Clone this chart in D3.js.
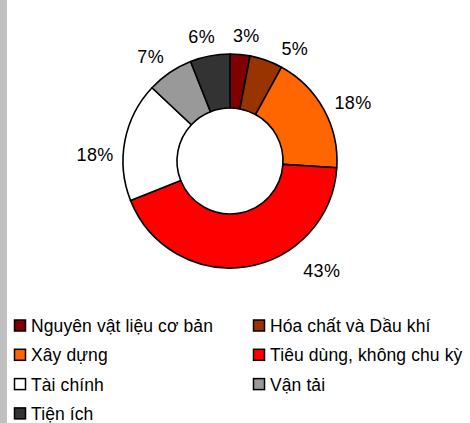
<!DOCTYPE html>
<html>
<head>
<meta charset="utf-8">
<script src="https://cdn.jsdelivr.net/npm/d3@7"></script>
<style>
  html, body { margin: 0; padding: 0; background: #fff; }
  svg { display: block; }
  text { font-family: "Liberation Sans", Arial, sans-serif; fill: #000; }
</style>
</head>
<body>
<div id="chart"></div>
<script>
// sectors, clockwise from 12 o'clock
const categories = ["Nguyên vật liệu cơ bản", "Hóa chất và Dầu khí", "Xây dựng",
  "Tiêu dùng, không chu kỳ", "Tài chính", "Vận tải", "Tiện ích"]
const values = [3, 5, 18, 43, 18, 7, 6]
const colors = ["#800000", "#993300", "#ff6600", "#ff0000", "#ffffff", "#999999", "#333333"]

// label nudges (degrees / px) where the labels were moved off the slice middle
const labelShift = {"Nguyên vật liệu cơ bản": 2, "Hóa chất và Dầu khí": 10, "Xây dựng": 3,
  "Tiêu dùng, không chu kỳ": -31, "Tài chính": -8, "Vận tải": -3, "Tiện ích": -2}
const labelPush = {"Tiêu dùng, không chu kỳ": 8}

const width = 470,
    height = 423

const cx = 230, cy = 161,
    outer = 107, inner = 53

const svg = d3.select("#chart")
  .append("svg")
    .attr("width", width)
    .attr("height", height)

// grey strip on the left edge
svg.append("rect")
  .attr("x", 0).attr("y", 0)
  .attr("width", 7).attr("height", height)
  .attr("fill", "#c0c0c0")

const data = categories.map((c, i) => ({name: c, value: values[i], color: colors[i]}))

const pie = d3.pie()
  .value(d => d.value)
  .sort(null)

const arc = d3.arc()
  .innerRadius(inner)
  .outerRadius(outer)

const g = svg.append("g")
  .attr("transform", `translate(${cx},${cy})`)

const arcs = pie(data)

g.selectAll("path")
  .data(arcs)
  .join("path")
  .attr("d", arc)
  .attr("fill", d => d.data.color)
  .attr("stroke", "#000")
  .attr("stroke-width", 1.6)
  .attr("stroke-linejoin", "round")

// percentage labels outside the ring
const fmt = d3.format(".0%")
const total = d3.sum(values)
g.selectAll("text.lbl")
  .data(arcs)
  .join("text")
  .attr("class", "lbl")
  .attr("font-size", 18)
  .attr("letter-spacing", 0.4)
  .attr("text-anchor", "middle")
  .attr("dominant-baseline", "central")
  .text(d => fmt(d.data.value / total))
  .each(function(d) {
    const a = (d.startAngle + d.endAngle) / 2 + (labelShift[d.data.name] || 0) * Math.PI / 180
    const w = this.getComputedTextLength(), h = 18
    const dist = outer + 9 + (labelPush[d.data.name] || 0) +
      Math.abs(Math.sin(a)) * w / 2 + Math.abs(Math.cos(a)) * h / 2
    d3.select(this)
      .attr("x", Math.sin(a) * dist)
      .attr("y", -Math.cos(a) * dist + 1)
  })

// legend, two columns
const legend = svg.append("g")
  .attr("transform", "translate(14,325.5)")

const item = legend.selectAll("g")
  .data(data)
  .join("g")
  .attr("transform", (d, i) => `translate(${(i % 2) * 239},${Math.floor(i / 2) * 29.3})`)

item.append("rect")
  .attr("x", 0.5).attr("y", -5.5)
  .attr("width", 11).attr("height", 11)
  .attr("fill", d => d.color)
  .attr("stroke", "#000")
  .attr("stroke-width", 1.5)

item.append("text")
  .attr("x", 17)
  .attr("y", 0.5)
  .attr("dominant-baseline", "central")
  .attr("font-size", 17.5)
  .attr("letter-spacing", 0.1)
  .text(d => d.name)
</script>
</body>
</html>
